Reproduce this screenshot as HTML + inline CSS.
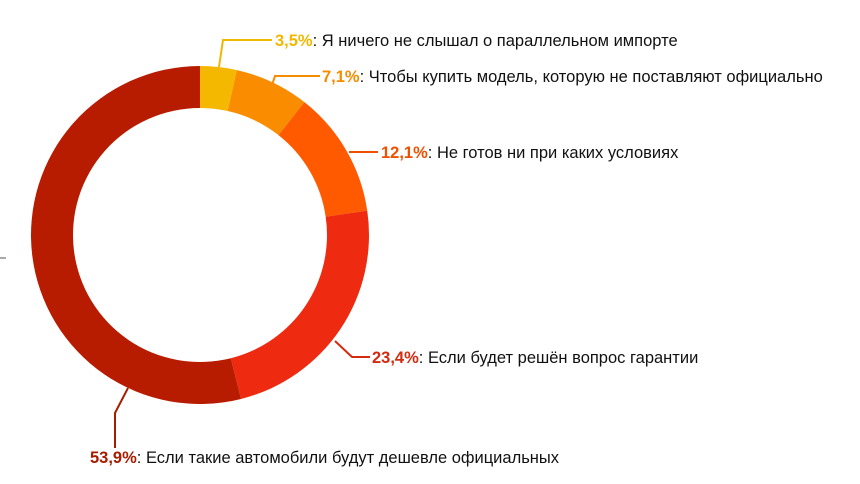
<!DOCTYPE html>
<html><head><meta charset="utf-8"><style>
body{margin:0;background:#fff;}
svg{display:block;}
text{font-family:"Liberation Sans",sans-serif;font-size:16.5px;fill:#111;}
.p{font-weight:bold;}
</style></head><body>
<svg width="860" height="484" viewBox="0 0 860 484">
<g id="d"></g>
<g fill="none" stroke-width="2">
<polyline points="219,67 223,40 272,40" stroke="#F2B800"/>
<polyline points="272,85 275,76 320,76" stroke="#F68C00"/>
<polyline points="349,152 378,152" stroke="#F05000"/>
<polyline points="335,341 352,357 370,357" stroke="#D42A10"/>
<polyline points="128,388 115,413 115,448" stroke="#A81C00"/>
</g>
<text x="275" y="46"><tspan class="p" fill="#F2B800">3,5%</tspan>: Я ничего не слышал о параллельном импорте</text>
<text x="322" y="82"><tspan class="p" fill="#F68C00">7,1%</tspan>: Чтобы купить модель, которую не поставляют официально</text>
<text x="381" y="158"><tspan class="p" fill="#F05000">12,1%</tspan>: Не готов ни при каких условиях</text>
<text x="372" y="363"><tspan class="p" fill="#D42A10">23,4%</tspan>: Если будет решён вопрос гарантии</text>
<text x="90" y="463"><tspan class="p" fill="#A81C00">53,9%</tspan>: Если такие автомобили будут дешевле официальных</text>
<line x1="0" y1="258" x2="6" y2="258" stroke="#555" stroke-width="1"/>
</svg>
<script>
var cx=200,cy=235,R=169,r=127;
var vals=[3.5,7.1,12.1,23.4,53.9],cols=["#F5B800","#FA8C00","#FF5A00","#EE2A10","#B81C00"];
var tot=100,a=0,g=document.getElementById('d'),s='';
function pt(rad,ang){return [cx+rad*Math.sin(ang),cy-rad*Math.cos(ang)];}
for(var i=0;i<5;i++){var a0=a/tot*2*Math.PI;a+=vals[i];var a1=a/tot*2*Math.PI;
var L=(a1-a0)>Math.PI?1:0;var p1=pt(R,a0),p2=pt(R,a1),p3=pt(r,a1),p4=pt(r,a0);
s+='<path fill="'+cols[i]+'" d="M'+p1+' A'+R+','+R+' 0 '+L+' 1 '+p2+' L'+p3+' A'+r+','+r+' 0 '+L+' 0 '+p4+' Z"/>';}
g.innerHTML=s;
</script>
</body></html>
